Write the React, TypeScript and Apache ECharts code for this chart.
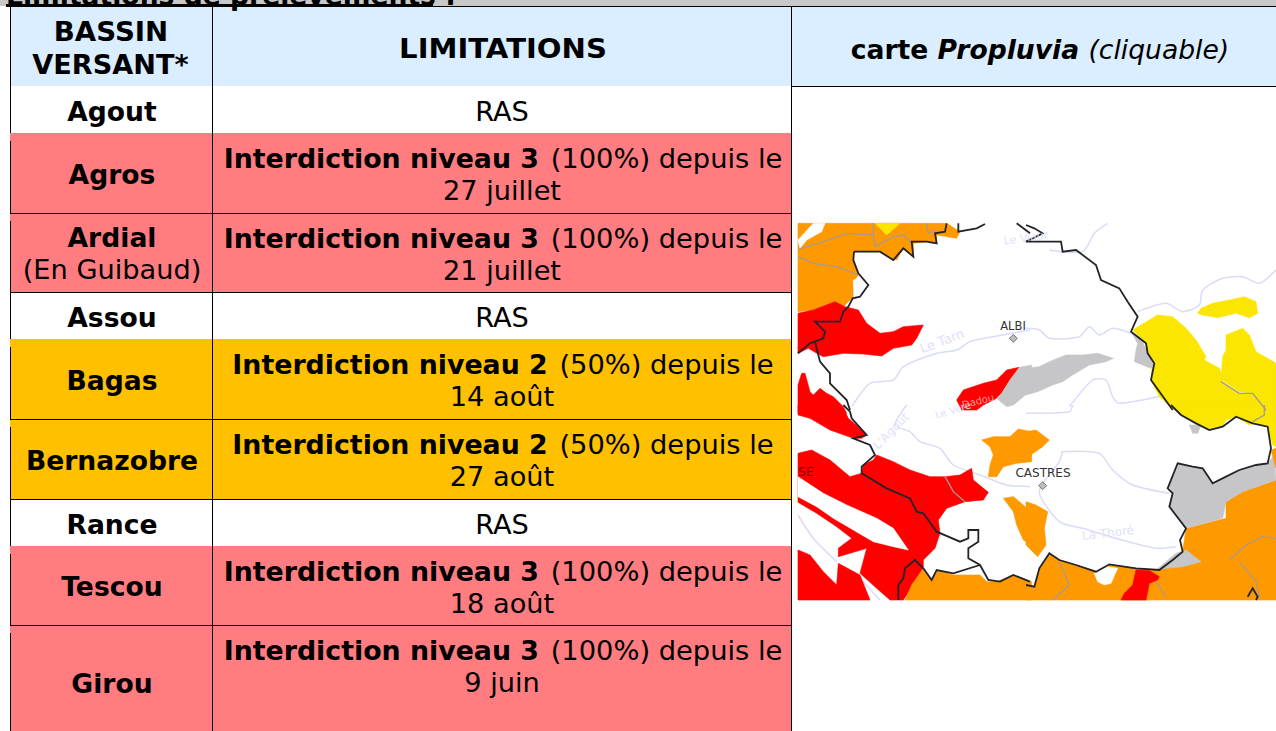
import React, { useEffect, useRef } from "react";
import * as echarts from "echarts";

// ---------- table content ----------
const headerBasin = ["BASSIN", "VERSANT*"];
const headerLimit = "LIMITATIONS";
const basins = ["Agout", "Agros", "Ardial", "Assou", "Bagas", "Bernazobre", "Rance", "Tescou", "Girou"];
const basinNotes = ["", "", "(En Guibaud)", "", "", "", "", "", ""];
const levels = [0, 3, 3, 0, 2, 2, 0, 3, 3];
const percents = ["", "100%", "100%", "", "50%", "50%", "", "100%", "100%"];
const dates = ["", "27 juillet", "21 juillet", "", "14 août", "27 août", "", "18 août", "9 juin"];

// ---------- layout (page pixels) ----------
const W = 1276, H = 731;
const FB = 26.6;
const FR = 27.2;
const FONT = "'DejaVu Sans', Verdana, sans-serif";
const rowEdges = [86, 133, 213, 292, 339, 419, 499, 546, 625, 740];
const colX = [10.5, 212.5, 791.5, W];
const levelColor: Record<number, string> = { 0: "#ffffff", 2: "#ffc000", 3: "#ff7c80" };

// ---------- map drawing (traced in 3x tile units) ----------
type P = number[][];
const tile = (ox: number, oy: number, pts: P) => pts.map(([x, y]) => [ox + x / 3, oy + y / 3]);
const A = (p: P) => tile(780, 210, p);
const B = (p: P) => tile(1026, 210, p);
const C = (p: P) => tile(780, 405, p);
const D = (p: P) => tile(1026, 405, p);

const ORANGE = "#ff9900", RED = "#ff0000", YELLOW = "#fae600", GREY = "#c6c6c8", LINE = "#a89a90", RIVER = "#d9dcf8", BORDER = "#23232b";

const fills: [string, number[][]][] = [
  [ORANGE, A([[54,40],[500,40],[540,65],[530,85],[470,75],[470,100],[440,95],[400,100],[400,140],[370,115],[350,150],[330,145],[300,125],[220,125],[220,150],[235,195],[220,215],[220,260],[190,290],[165,275],[100,300],[54,305]])],
  ["#ffffff", A([[54,90],[100,40],[135,40],[125,65],[80,90],[60,115]])],
  ["#ffffff", A([[220,210],[255,205],[265,225],[240,260],[222,260]])],
  [YELLOW, A([[285,40],[360,40],[320,75]])],
  [ORANGE, A([[54,410],[70,410],[54,430]])],
  [RED, A([[54,310],[100,300],[165,275],[195,290],[235,300],[260,340],[300,370],[340,365],[370,350],[430,345],[410,385],[395,405],[340,415],[305,438],[250,432],[190,430],[130,440],[110,430],[85,415],[54,430]])],
  [RED, A([[530,570],[550,540],[610,520],[650,510],[680,480],[718,472],[690,510],[665,550],[650,565],[610,585],[590,600],[545,600]])],
  [GREY, A([[718,472],[755,465],[755,540],[700,585],[680,590],[650,565],[665,550],[690,510]])],
  [GREY, B([[0,475],[40,470],[70,455],[120,435],[170,435],[215,430],[262,445],[240,455],[190,465],[140,495],[110,515],[80,525],[35,545],[0,555]])],
  [RED, A([[54,525],[65,490],[75,490],[90,545],[100,555],[120,535],[140,550],[160,560],[190,590],[200,610],[54,610]])],
  [RED, C([[54,0],[170,0],[175,20],[190,10],[205,40],[240,70],[260,90],[245,100],[220,100],[150,75],[90,40],[54,30]])],
  [RED, C([[54,145],[95,135],[150,165],[210,215],[245,205],[250,180],[280,165],[290,150],[340,170],[390,195],[450,215],[495,215],[540,210],[575,190],[580,225],[625,262],[610,285],[555,290],[500,310],[475,345],[480,385],[465,430],[430,465],[430,490],[380,570],[370,585],[330,585],[290,550],[240,505],[260,430],[175,455],[175,430],[215,400],[170,365],[110,325],[54,292]])],
  ["#ffffff", C([[54,215],[130,265],[200,300],[290,340],[340,370],[385,435],[340,425],[280,410],[220,375],[160,340],[110,305],[54,275]])],
  [RED, C([[54,435],[90,450],[130,500],[170,540],[175,475],[240,510],[270,585],[54,585]])],
  [ORANGE, C([[605,105],[640,95],[690,95],[715,72],[755,80],[755,170],[710,175],[670,185],[650,215],[625,215],[630,180],[640,150],[630,125]])],
  [ORANGE, D([[0,80],[30,75],[70,105],[50,125],[0,160]])],
  [ORANGE, C([[670,280],[700,275],[730,300],[755,325],[755,420],[730,405],[710,360],[700,320]])],
  [ORANGE, D([[0,290],[30,300],[65,320],[55,370],[60,420],[35,455],[0,420]])],
  [ORANGE, C([[375,585],[395,540],[430,490],[455,525],[475,495],[520,510],[600,510],[620,530],[650,530],[700,510],[755,530],[755,585]])],
  [ORANGE, D([[0,540],[25,545],[40,490],[70,445],[100,465],[150,480],[210,500],[250,480],[330,490],[400,495],[440,470],[470,440],[480,370],[600,340],[600,290],[650,260],[750,225],[750,585],[0,585]])],
  ["#ffffff", D([[205,505],[245,485],[275,490],[255,535],[235,540],[215,530]])],
  [RED, D([[285,585],[295,565],[320,540],[330,495],[370,497],[400,515],[395,525],[370,535],[360,585]])],
  [GREY, D([[460,175],[500,185],[530,190],[560,235],[600,215],[640,195],[690,180],[725,175],[745,150],[750,225],[650,260],[600,290],[590,340],[480,370],[430,305],[440,265],[430,245]])],
  [GREY, D([[390,495],[450,445],[480,435],[525,470],[470,485],[420,490]])],
  [ORANGE, D([[735,135],[750,130],[750,190]])],
  [GREY, D([[490,60],[525,60],[515,85],[500,85]])],
  [YELLOW, B([[320,360],[345,345],[395,315],[440,320],[480,355],[510,390],[540,440],[535,450],[580,475],[590,500],[585,515],[640,550],[680,550],[720,600],[445,600],[400,560],[375,510],[378,470],[385,460],[365,430],[360,400],[340,380]])],
  [YELLOW, D([[430,-5],[720,-5],[715,30],[690,50],[670,60],[630,35],[600,45],[590,65],[550,75],[510,55],[465,30]])],
  [YELLOW, B([[585,510],[590,440],[600,420],[600,375],[650,355],[670,375],[690,425],[750,460],[750,600],[720,600],[680,550],[640,545]])],
  [YELLOW, D([[715,30],[720,-5],[750,-5],[750,125],[740,120],[725,65],[680,55]])],
  [YELLOW, B([[515,310],[525,295],[560,280],[610,270],[655,260],[690,275],[695,310],[670,323],[630,310],[575,323],[530,315]])],
  [GREY, B([[315,365],[345,385],[365,430],[385,460],[375,475],[325,455],[330,420],[335,400]])],
];

const rivers: number[][][] = [
  A([[215,590],[270,520],[340,510],[370,470],[470,430],[530,420],[570,395],[640,380],[750,360]]),
  B([[0,355],[40,360],[70,385],[160,380],[190,350],[220,375],[260,355],[315,370]]),
  B([[335,305],[420,280],[470,305],[520,285],[530,240],[590,205],[650,200],[700,220],[750,180]]),
  B([[130,590],[200,510],[240,510],[260,560],[280,580],[420,555]]),
  B([[70,120],[170,125],[205,70],[245,40]]),
  D([[0,25],[130,20],[140,0]]),
  D([[105,140],[220,145],[260,195],[320,240],[430,265]]),
  D([[110,140],[100,170],[40,260],[100,350],[170,370],[270,400],[390,430],[450,425]]),
  D([[440,255],[490,240],[540,265],[620,230],[710,230],[750,180]]),
  C([[380,0],[345,60],[390,80],[420,110],[480,130],[520,180],[600,210],[680,240],[750,245]]),
  C([[54,330],[100,400],[170,470]]),
  C([[240,520],[300,585]]),
];

const greyLines: number[][][] = [
  A([[54,118],[130,95],[200,70],[280,75]]),
  A([[280,75],[285,110],[340,80],[370,75],[395,100]]),
  A([[54,140],[100,160],[170,170],[235,195]]),
  A([[440,40],[445,70],[470,60]]),
  A([[280,40],[280,75]]),
  C([[495,215],[520,260],[555,290]]),
  D([[610,465],[660,420],[710,395],[750,400]]),
  D([[640,470],[690,530],[700,580]]),
  D([[100,470],[130,540],[80,585]]),
  D([[390,530],[420,575]]),
  D([[715,0],[715,30],[680,50]]),
  B([[585,515],[640,550],[680,550],[720,600]]),
];

const borders: number[][][] = [
  A([[222,125],[300,125],[340,150],[370,115],[400,140],[395,95],[440,95],[470,100],[465,70],[495,65],[500,40]]),
  A([[535,40],[535,65],[590,55],[615,42]]),
  A([[710,40],[750,70]]),
  A([[222,125],[220,150],[235,190],[265,225],[240,260],[218,265],[205,290],[190,305],[180,335],[105,335],[135,365],[130,385],[105,395],[90,400],[54,430]]),
  A([[105,395],[120,455],[150,490],[150,520],[200,570],[210,600]]),
  C([[190,0],[210,20],[215,40],[260,90],[220,100],[270,120],[285,150],[245,185],[245,205],[320,250],[390,280],[410,320],[430,325],[470,380],[540,410],[565,400],[565,375],[595,375],[595,410],[565,430],[565,460],[600,480],[625,525],[660,530],[700,510],[750,530]]),
  C([[430,490],[405,465],[375,490],[370,520],[355,540],[355,585]]),
  C([[430,490],[455,525],[470,495],[520,505],[600,480]]),
  D([[0,540],[25,545],[40,490],[70,445],[100,465],[150,480],[210,500],[250,478],[330,490],[400,495],[440,465],[470,440],[462,405],[480,370],[430,305],[440,265],[425,250],[455,175],[500,185],[530,190],[560,235],[600,215],[640,195],[690,180],[725,175],[735,130],[725,65],[680,55],[630,35],[590,65],[550,75],[510,55],[465,30],[435,0]]),
  B([[440,600],[375,510],[385,460],[365,430],[360,400],[315,365],[335,320],[305,275],[280,235],[225,210],[210,165],[150,120],[110,125],[105,95],[0,95],[50,70],[25,55],[0,45]]),
  D([[665,575],[680,550],[695,575],[690,585]]),
];

const mapTexts: [string, number, number, number, string, number][] = [
  ["ALBI", 1013, 326, 0, "#333333", 11.5],
  ["CASTRES", 1043, 473, 0, "#333333", 12],
  ["SE", 806, 471, 0, "#7a0000", 12.5],
  ["Le Tarn", 942, 341, 0.36, "#dfe1f8", 13],
  ["L'Agout", 891, 431, 0.8, "#dfe1f8", 12],
  ["La Thoré", 1108, 533, 0.12, "#dfe1f8", 12],
  ["Le Viaur", 1026, 238, 0.15, "#dfe1f8", 11],
  ["Le Vère", 953, 410, 0.3, "#dfe1f8", 10],
  ["Dadou", 978, 401, 0.25, "#ff9a9a", 10],
];
const towns = [A([[700,385]])[0], D([[50,242]])[0]];

function tableCell(params: any, api: any) {
  const i = params.dataIndex;
  const top = api.coord([0, api.value(0)]);
  const bottom = api.coord([0, api.value(1)]);
  const xs = colX.map((x) => api.coord([x, 0])[0]);
  const y0 = top[1], y1 = bottom[1];
  const fill = levelColor[levels[i]];
  const prevRuled = i > 0 && levels[i - 1] > 0;
  const mid = (y0 + y1) / 2;
  const fillTop = y0 + (prevRuled ? 1 : 0);
  const children: any[] = [
    { type: "rect", shape: { x: xs[0] - 0.5, y: fillTop, width: xs[2] - xs[0] + 0.5, height: y1 - fillTop }, style: { fill } },
  ];
  const label = (text: string, y: number, weight: string, size: number) => ({
    type: "text", style: { x: (xs[0] + xs[1]) / 2 + 0.5, y, text, fontFamily: FONT, fontSize: size, fontWeight: weight, fill: "#000", align: "center", verticalAlign: "middle" },
  });
  if (basinNotes[i]) {
    children.push(label(basins[i], y0 + 24, "bold", FB), label(basinNotes[i], y0 + 56, "normal", FR));
  } else {
    children.push(label(basins[i], mid + (levels[i] ? 1 : 1.5), "bold", FB));
  }
  const cx = (xs[1] + xs[2]) / 2;
  if (levels[i]) {
    children.push({
      type: "text",
      style: {
        x: cx + 1, y: y0 + 25, align: "center", verticalAlign: "middle",
        text: `{b|Interdiction niveau ${levels[i]}}{r| (${percents[i]}) depuis le}`,
        rich: {
          b: { fontFamily: FONT, fontSize: FB + 0.2, fontWeight: "bold", fill: "#000", padding: [0, 3, 0, 0] },
          r: { fontFamily: FONT, fontSize: FR + 0.1, fontWeight: "normal", fill: "#000" },
        },
      },
    });
    children.push({ type: "text", style: { x: cx, y: y0 + 57, text: dates[i], fontFamily: FONT, fontSize: FR, fill: "#000", align: "center", verticalAlign: "middle" } });
  } else {
    children.push({ type: "text", style: { x: cx, y: mid + 1.5, text: "RAS", fontFamily: FONT, fontSize: FR, fill: "#000", align: "center", verticalAlign: "middle" } });
  }
  const rule = (x1: number, a: number, x2: number, b: number) => ({ type: "line", shape: { x1, y1: a, x2, y2: b }, style: { stroke: "#000", lineWidth: 1 } });
  children.push(rule(xs[0], y0 + (levels[i] ? 8 : 0), xs[0], y1 + 1), rule(xs[1], y0, xs[1], y1 + 1), rule(xs[2], y0, xs[2], y1 + 1));
  if (levels[i]) children.push(rule(xs[0], y1 + 0.5, xs[2], y1 + 0.5));
  return { type: "group", children };
}

export default function App() {
  const ref = useRef<HTMLDivElement>(null);
  useEffect(() => {
    const chart = echarts.init(ref.current!, undefined, { renderer: "svg" });
    const bold = (x: number, y: number, text: string, scaleX: number) => ({
      type: "text", z: 5, x, y, scaleX, style: { text, fontFamily: FONT, fontSize: FB, fontWeight: "bold", fill: "#000", align: "center", verticalAlign: "middle" },
    });
    const graphic: any[] = [
      { type: "rect", z: 1, shape: { x: 0, y: 0, width: W, height: 6 }, style: { fill: "#c8c8c8" } },
      { type: "text", z: 2, x: 6, y: -18, style: { text: "Limitations de prélèvements :", fontFamily: FONT, fontSize: FB, fontWeight: "bold", fill: "#000", align: "left", verticalAlign: "top" } },
      { type: "rect", z: 3, shape: { x: 6, y: 4, width: 427, height: 3 }, style: { fill: "#000" } },
      { type: "rect", z: 1, shape: { x: 10, y: 7, width: W - 10, height: 79 }, style: { fill: "#dbeeff" } },
      { type: "rect", z: 2, shape: { x: 212, y: 6, width: W - 212, height: 1 }, style: { fill: "#000" } },
      { type: "rect", z: 2, shape: { x: 10, y: 86, width: W - 10, height: 1 }, style: { fill: "#000" } },
      { type: "rect", z: 2, shape: { x: 10, y: 7, width: 1, height: 79 }, style: { fill: "#000" } },
      { type: "rect", z: 2, shape: { x: 212, y: 7, width: 1, height: 79 }, style: { fill: "#000" } },
      { type: "rect", z: 2, shape: { x: 791, y: 7, width: 1, height: 79 }, style: { fill: "#000" } },
      bold(111, 32, headerBasin[0], 1.04),
      bold(110.5, 65, headerBasin[1], 1.02),
      bold(503, 49, headerLimit, 1.095),
      {
        type: "text", z: 5, x: 1040, y: 49,
        style: {
          text: "{b|carte }{bi|Propluvia }{i|(cliquable)}", align: "center", verticalAlign: "middle",
          rich: {
            b: { fontFamily: FONT, fontSize: FB, fontWeight: "bold", fill: "#000" },
            bi: { fontFamily: FONT, fontSize: FB, fontWeight: "bold", fontStyle: "italic", fill: "#000" },
            i: { fontFamily: FONT, fontSize: FB, fontStyle: "italic", fill: "#000" },
          },
        },
      },
      {
        type: "group", z: 4,
        children: [
          ...rivers.map((points) => ({ type: "polyline", z: 4, shape: { points, smooth: 0.25 }, style: { stroke: RIVER, lineWidth: 1.5, fill: "none" } })),
          ...fills.map(([fill, points]) => ({ type: "polygon", z: 4, shape: { points }, style: { fill, stroke: fill, lineWidth: 0.6 } })),
          ...greyLines.map((points) => ({ type: "polyline", z: 4, shape: { points }, style: { stroke: LINE, lineWidth: 1.3, fill: "none" } })),
          ...borders.map((points) => ({ type: "polyline", z: 4, shape: { points }, style: { stroke: BORDER, lineWidth: 1.8, fill: "none" } })),
          ...towns.map(([x, y]) => ({ type: "polygon", z: 4, shape: { points: [[x, y - 4], [x + 4, y], [x, y + 4], [x - 4, y]] }, style: { fill: "#bdbdbd", stroke: "#777", lineWidth: 1 } })),
          ...mapTexts.map(([text, x, y, rotation, fill, fontSize]) => ({
            type: "text", z: 4, x, y, rotation, style: { text, fill, fontSize, fontFamily: FONT, align: "center", verticalAlign: "middle" },
          })),
        ],
      },
    ];
    chart.setOption({
      animation: false,
      backgroundColor: "#ffffff",
      grid: { left: 0, right: 0, top: 0, bottom: 0 },
      xAxis: { type: "value", min: 0, max: W, show: false },
      yAxis: { type: "value", min: 0, max: H, inverse: true, show: false },
      graphic,
      series: [
        {
          type: "custom",
          coordinateSystem: "cartesian2d",
          clip: false,
          silent: true,
          renderItem: tableCell,
          encode: { x: 2, y: [0, 1] },
          data: basins.map((_, i) => [rowEdges[i], rowEdges[i + 1], 0]),
        },
      ],
    });
    return () => chart.dispose();
  }, []);
  return <div ref={ref} style={{ position: "fixed", left: 0, top: 0, width: W, height: H }} />;
}
